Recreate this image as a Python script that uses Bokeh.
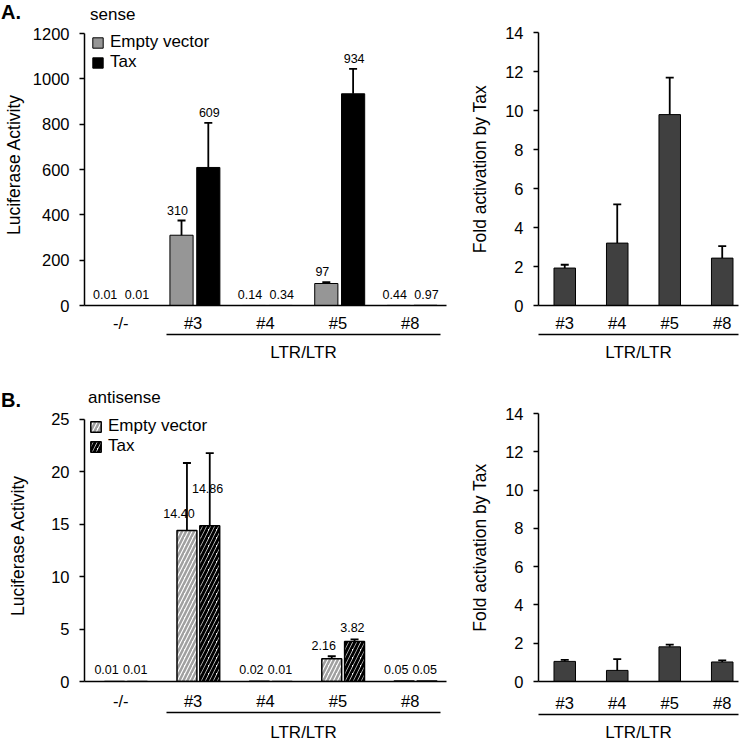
from bokeh.plotting import figure
from bokeh.models import (ColumnDataSource, Range1d, LinearAxis, Div,
                          FixedTicker, Legend, LegendItem)
from bokeh.transform import dodge
from bokeh.layouts import row, column
from bokeh.embed import file_html
from bokeh.resources import INLINE
from bokeh.core.properties import value

# ---------------- data ----------------
groups = ["-/-", "#3", "#4", "#5", "#8"]
ltr_groups = ["#3", "#4", "#5", "#8"]
series_names = ["Empty vector", "Tax"]

sense_empty = [0.01, 310, 0.14, 97, 0.44]
sense_empty_err = [0, 65, 0, 6, 0]
sense_tax = [0.01, 609, 0.34, 934, 0.97]
sense_tax_err = [0, 197, 0, 110, 0]

antisense_empty = [0.01, 14.40, 0.02, 2.16, 0.05]
antisense_empty_err = [0, 6.44, 0, 0.25, 0]
antisense_tax = [0.01, 14.86, 0.01, 3.82, 0.05]
antisense_tax_err = [0, 6.92, 0, 0.19, 0]

sense_fold = [1.92, 3.20, 9.79, 2.43]
sense_fold_err = [0.17, 1.99, 1.90, 0.62]
antisense_fold = [1.05, 0.58, 1.81, 1.02]
antisense_fold_err = [0.08, 0.59, 0.12, 0.08]

# label lift above the anchor (pixels, style only)
a_lift_empty = [6, 6, 6, 6, 6]
a_lift_tax = [6, 6, 6, 6, 6]
b_lift_empty = [7, 13, 7, 9, 7]
b_lift_tax = [7, 33, 7, 10, 7]

FONT = "Liberation Sans"
LEFT_W, RIGHT_W = 460, 282


def base_style(p):
    p.xgrid.visible = False
    p.ygrid.visible = False
    p.outline_line_color = None
    p.background_fill_color = "white"
    p.border_fill_color = "white"


def style_y(p, ticks, label, standoff):
    ax = p.yaxis[0]
    ax.ticker = FixedTicker(ticks=ticks)
    ax.bounds = (ticks[0], ticks[-1])
    ax.axis_label = label
    ax.axis_label_text_font = FONT
    ax.axis_label_text_font_size = "17.5px"
    ax.axis_label_text_font_style = "normal"
    ax.axis_label_text_color = "black"
    ax.axis_label_standoff = standoff
    ax.major_label_text_font = FONT
    ax.major_label_text_font_size = "16.5px"
    ax.major_label_text_color = "black"
    ax.major_label_standoff = 10
    ax.major_tick_out = 5
    ax.major_tick_in = 0
    ax.minor_tick_out = 0
    ax.minor_tick_in = 0
    ax.axis_line_width = 1.5
    ax.major_tick_line_width = 1.5
    ax.axis_line_color = "black"
    ax.major_tick_line_color = "black"


def style_x(ax, names, standoff):
    xs = [i + 0.5 for i in range(len(names))]
    ax.ticker = FixedTicker(ticks=xs)
    ax.major_label_overrides = {x: g for x, g in zip(xs, names)}
    ax.major_label_text_font = FONT
    ax.major_label_text_font_size = "16.5px"
    ax.major_label_text_color = "black"
    ax.major_label_standoff = standoff
    ax.major_tick_out = 0
    ax.major_tick_in = 0
    ax.minor_tick_out = 0
    ax.minor_tick_in = 0
    ax.axis_line_width = 1.5
    ax.axis_line_color = "black"
    return xs


def spacer_axis(px):
    return LinearAxis(ticker=FixedTicker(ticks=[]), major_tick_out=px, major_tick_in=0,
                      minor_tick_out=0, minor_tick_in=0, axis_line_color=None,
                      major_tick_line_color=None, minor_tick_line_color=None)


def ltr_axis(bounds, mid, standoff):
    kw = dict(ticker=FixedTicker(ticks=[mid]), major_label_overrides={mid: "LTR/LTR"})
    if bounds is not None:
        kw["bounds"] = bounds
    ax = LinearAxis(**kw)
    ax.major_label_text_font = FONT
    ax.major_label_text_font_size = "17px"
    ax.major_label_text_color = "black"
    ax.major_label_standoff = standoff
    ax.major_tick_out = 0
    ax.major_tick_in = 0
    ax.minor_tick_out = 0
    ax.minor_tick_in = 0
    ax.axis_line_width = 1.5
    ax.axis_line_color = "black"
    return ax


def left_panel(height, bottom, axis_px, head_px, ymax, ystep, ylab_standoff,
               xstand, spacer, ltr_stand,
               empty, empty_err, tax, tax_err,
               bar_w, off_e, off_t, lab_dx_e, lab_dx_t, fmt, lift_e, lift_t, label_at_err,
               empty_style, tax_style, legend_loc):
    top_end = ymax * (axis_px + head_px) / axis_px
    per_px = ymax / axis_px
    p = figure(width=LEFT_W, height=height, x_range=Range1d(0, len(groups)),
               y_range=Range1d(0, top_end), output_backend="svg", toolbar_location=None,
               min_border_left=83, min_border_right=14, min_border_top=0,
               min_border_bottom=bottom)
    base_style(p)
    style_y(p, list(range(0, ymax + 1, ystep)), "Luciferase Activity", ylab_standoff)
    xs = style_x(p.xaxis[0], groups, xstand)
    p.add_layout(spacer_axis(spacer), "below")
    p.add_layout(ltr_axis((1.13, 4.92), 3.025, ltr_stand), "below")

    empty_hi = [v + e for v, e in zip(empty, empty_err)]
    tax_hi = [v + e for v, e in zip(tax, tax_err)]
    anchor_e = empty_hi if label_at_err else empty
    anchor_t = tax_hi if label_at_err else tax
    src = ColumnDataSource(dict(
        x=xs, g=groups, empty=empty, tax=tax,
        empty_lab=[fmt(v) for v in empty], tax_lab=[fmt(v) for v in tax],
        empty_lab_y=[a + l * per_px for a, l in zip(anchor_e, lift_e)],
        tax_lab_y=[a + l * per_px for a, l in zip(anchor_t, lift_t)],
    ))
    r_e = p.vbar(x=dodge("x", off_e), top="empty", width=bar_w,
                 source=src, line_color="black", **empty_style)
    r_t = p.vbar(x=dodge("x", off_t), top="tax", width=bar_w,
                 source=src, line_color="black", **tax_style)

    for vals, errs, off in ((empty, empty_err, off_e), (tax, tax_err, off_t)):
        keep = [i for i, e in enumerate(errs) if e > 0]
        es = ColumnDataSource(dict(x=[xs[i] for i in keep],
                                   lo=[vals[i] for i in keep],
                                   hi=[vals[i] + errs[i] for i in keep]))
        xd = dodge("x", off)
        p.segment(x0=xd, y0="lo", x1=xd, y1="hi", source=es, line_color="black",
                  line_width=1.8)
        p.scatter(x=xd, y="hi", source=es, marker="dash", size=8, line_color="black",
                  line_width=1.8)

    txt = dict(text_font=value(FONT), text_font_size="12.5px", text_color="black",
               text_align="center", text_baseline="bottom")
    p.text(x=dodge("x", off_e + lab_dx_e), y="empty_lab_y", text="empty_lab", source=src, **txt)
    p.text(x=dodge("x", off_t + lab_dx_t), y="tax_lab_y", text="tax_lab", source=src, **txt)

    legend = Legend(items=[LegendItem(label=series_names[0], renderers=[r_e]),
                           LegendItem(label=series_names[1], renderers=[r_t])],
                    location=legend_loc)
    legend.label_text_font = FONT
    legend.label_text_font_size = "17px"
    legend.label_text_color = "black"
    legend.glyph_width = 13
    legend.glyph_height = 13
    legend.label_standoff = 6
    legend.label_height = 16
    legend.padding = 0
    legend.margin = 0
    legend.spacing = 0
    legend.border_line_color = None
    legend.background_fill_alpha = 0
    p.add_layout(legend)
    return p


def right_panel(height, top, bottom, xstand, spacer, ltr_stand, vals, errs):
    span = 3.81
    p = figure(width=RIGHT_W, height=height, x_range=Range1d(0, span), y_range=Range1d(0, 14),
               output_backend="svg", toolbar_location=None,
               min_border_left=78, min_border_right=4, min_border_top=top,
               min_border_bottom=bottom)
    base_style(p)
    style_y(p, list(range(0, 15, 2)), "Fold activation by Tax", 12)
    xs = style_x(p.xaxis[0], ltr_groups, xstand)
    p.add_layout(spacer_axis(spacer), "below")
    p.add_layout(ltr_axis(None, span / 2, ltr_stand), "below")
    src = ColumnDataSource(dict(x=xs, g=ltr_groups, v=vals,
                                hi=[v + e for v, e in zip(vals, errs)]))
    p.segment(x0="x", y0="v", x1="x", y1="hi", source=src, line_color="black", line_width=1.8)
    p.scatter(x="x", y="hi", source=src, marker="dash", size=8, line_color="black",
              line_width=1.8)
    p.vbar(x="x", top="v", width=0.41, source=src, fill_color="#404040",
           line_color="black", line_width=1)
    return p


def header(height, letter, letter_top, title, title_left, title_top):
    html = (
        f'<div style="position:relative;width:{LEFT_W}px;height:{height}px;'
        f'font-family:\'{FONT}\';color:black;">'
        f'<span style="position:absolute;left:1px;top:{letter_top}px;font-size:20px;'
        f'font-weight:bold;line-height:21px;white-space:nowrap;">{letter}</span>'
        f'<span style="position:absolute;left:{title_left}px;top:{title_top}px;font-size:17px;'
        f'line-height:17px;white-space:nowrap;">{title}</span></div>'
    )
    return Div(text=html, width=LEFT_W, height=height, margin=0)


def fmt_a(v):
    return f"{v:.0f}" if v >= 10 else f"{v:.2f}"


def fmt_b(v):
    return f"{v:.2f}"


# left column: header A (23) + panel A (347) + header B (39) + panel B (335) = 744
hA = header(23, "A.", 2, "sense", 90, 6)
pA = left_panel(347, 65, 272, 10, 1200, 200, 6, 8, 13, 8,
                sense_empty, sense_empty_err, sense_tax, sense_tax_err,
                0.32, -0.16, 0.21, -0.055, 0.014, fmt_a, a_lift_empty, a_lift_tax, True,
                dict(fill_color="#969696", line_width=1),
                dict(fill_color="black", line_width=1),
                (7, 233))

hB = header(39, "B.", 20, "antisense", 88, 19)
pB = left_panel(335, 59, 266, 10, 25, 5, 20, 10, 14, 10,
                antisense_empty, antisense_empty_err, antisense_tax, antisense_tax_err,
                0.275, -0.085, 0.23, -0.11, -0.03, fmt_b,
                b_lift_empty, b_lift_tax, False,
                dict(fill_color="white", line_width=1.5, hatch_pattern="right_diagonal_line",
                     hatch_color="#a0a0a0", hatch_weight=2.5, hatch_scale=8),
                dict(fill_color="white", line_width=1.5, hatch_pattern="right_diagonal_line",
                     hatch_color="black", hatch_weight=3, hatch_scale=8),
                (5, 225))

# right column: 370 + 374 = 744
pA2 = right_panel(370, 32, 65, 8, 12, 8, sense_fold, sense_fold_err)
pB2 = right_panel(374, 43, 55, 12, 9, 8, antisense_fold, antisense_fold_err)

layout = row(column(hA, pA, hB, pB, spacing=0), column(pA2, pB2, spacing=0), spacing=0)
open("out.html", "w").write(file_html(layout, INLINE))
